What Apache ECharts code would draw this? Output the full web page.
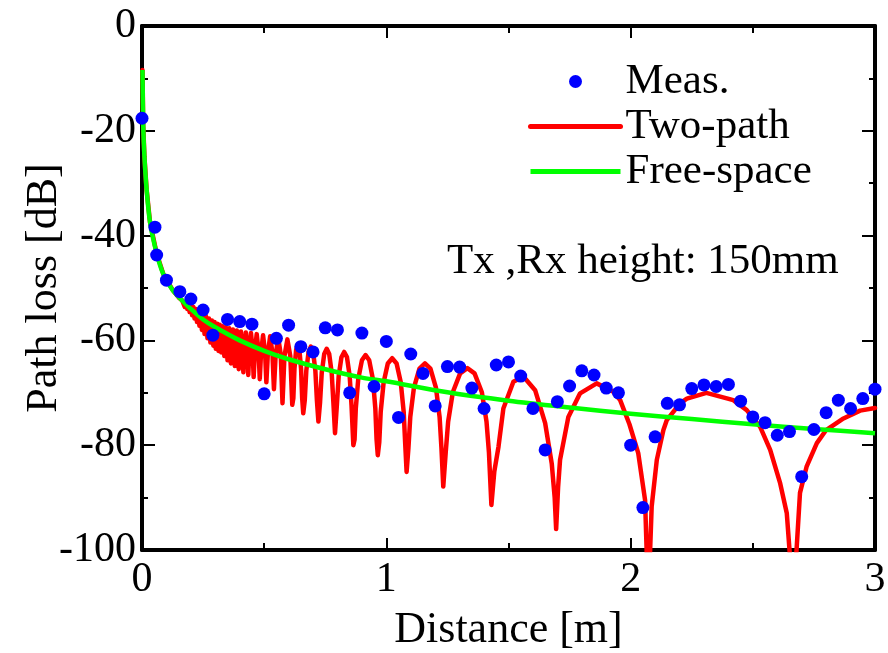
<!DOCTYPE html>
<html>
<head>
<meta charset="utf-8">
<script src="https://cdn.jsdelivr.net/npm/echarts@6/dist/echarts.min.js"></script>
<style>
html,body{margin:0;padding:0;background:#fff;}
#chart{width:888px;height:653px;}
</style>
</head>
<body>
<div id="chart"></div>
<script>
// ---- data ----
var xTicks = [0, 1, 2, 3];
var yTicks = [0, -20, -40, -60, -80, -100];

var measX = [0.00,0.053,0.06,0.10,0.155,0.20,0.25,0.29,0.35,0.40,0.45,0.50,0.55,0.60,0.65,0.70,0.75,0.80,0.85,0.90,0.95,1.00,1.05,1.10,1.15,1.20,1.25,1.30,1.35,1.40,1.45,1.50,1.55,1.60,1.65,1.70,1.75,1.80,1.85,1.90,1.95,2.00,2.05,2.10,2.15,2.20,2.25,2.30,2.35,2.40,2.45,2.50,2.55,2.60,2.65,2.70,2.75,2.80,2.85,2.90,2.95,3.00];
var measY = [-17.6,-38.4,-43.7,-48.5,-50.7,-52.1,-54.2,-59.0,-56.0,-56.4,-56.9,-70.2,-59.6,-57.1,-61.2,-62.2,-57.6,-58.0,-70.0,-58.6,-68.8,-60.2,-74.7,-62.6,-66.3,-72.5,-65.0,-65.1,-69.1,-73.0,-64.7,-64.1,-66.8,-73.0,-80.9,-71.7,-68.7,-65.8,-66.6,-69.1,-70.0,-80.0,-91.9,-78.4,-72.0,-72.3,-69.2,-68.5,-68.8,-68.4,-71.6,-74.6,-75.7,-78.1,-77.4,-86.0,-77.0,-73.8,-71.4,-73.0,-71.1,-69.3];

var twoPath = [
[0.002,-8.4],[0.005,-19],[0.01,-25],[0.019,-31.3],[0.033,-37.5],[0.06,-43.4],[0.087,-47.3],[0.127,-50.5],[0.150,-51.8],[0.165,-52.4],
[0.170,-52.3],[0.175,-53.6],[0.180,-52.6],[0.185,-54.0],[0.190,-52.9],[0.195,-54.6],[0.200,-53.3],[0.205,-55.2],[0.210,-53.6],[0.215,-55.8],
[0.220,-54.0],[0.225,-56.5],[0.230,-54.3],[0.235,-57.2],[0.240,-54.7],[0.245,-58.0],[0.250,-55.0],[0.256,-58.8],[0.262,-55.4],[0.268,-59.6],
[0.274,-55.8],[0.280,-60.4],[0.286,-56.2],[0.292,-61.0],[0.297,-56.5],[0.302,-61.6],[0.308,-56.8],[0.313,-62.0],[0.318,-57.0],[0.324,-62.3],
[0.330,-57.3],[0.337,-63.0],[0.343,-57.5],[0.350,-63.8],[0.357,-57.7],[0.364,-64.4],[0.372,-57.9],[0.380,-64.9],[0.388,-58.1],[0.396,-65.5],
[0.405,-58.3],[0.415,-66.1],
[0.419,-61.5],[0.425,-58.5],[0.431,-61.5],[0.435,-66.6],
[0.4394,-61.8],[0.446,-58.6],[0.4526,-61.8],[0.457,-67.0],
[0.462,-62.0],[0.4695,-58.8],[0.477,-62.0],[0.482,-67.4],
[0.4874,-62.2],[0.4955,-59.0],[0.5036,-62.2],[0.509,-68.0],
[0.5152,-62.4],[0.5245,-59.2],[0.5338,-62.4],[0.540,-69.3],
[0.547,-62.7],[0.5575,-59.5],[0.568,-62.7],[0.575,-72.0],
[0.583,-63.0],[0.595,-59.8],[0.607,-63.0],[0.615,-72.3],
[0.6195,-71.0],[0.624,-65.4],[0.6308,-61.8],[0.6375,-60.8],[0.6442,-61.8],[0.651,-65.4],[0.6555,-71.0],[0.660,-73.9],
[0.6662,-71.4],[0.6724,-65.8],[0.6817,-62.2],[0.691,-61.2],[0.7003,-62.2],[0.7096,-65.8],[0.7158,-71.4],[0.722,-75.5],
[0.7288,-71.8],[0.7356,-66.2],[0.7458,-62.6],[0.756,-61.6],[0.7662,-62.6],[0.7764,-66.2],[0.7832,-71.8],[0.790,-77.7],
[0.7975,-72.4],[0.805,-66.8],[0.8163,-63.2],[0.8275,-62.2],[0.8388,-63.2],[0.850,-66.8],[0.8575,-72.4],[0.865,-80.0],
[0.870,-78.9],[0.875,-73.0],[0.885,-67.4],[0.900,-63.8],[0.915,-62.8],[0.930,-63.8],[0.945,-67.4],[0.955,-73.0],[0.960,-78.9],[0.965,-81.9],
[0.971,-79.5],[0.977,-73.6],[0.989,-68.0],[1.006,-64.4],[1.024,-63.4],[1.042,-64.4],[1.059,-68.0],[1.071,-73.6],[1.077,-79.5],[1.083,-85.1],
[1.0905,-80.5],[1.098,-74.6],[1.113,-69.0],[1.1355,-65.4],[1.158,-64.4],[1.1805,-65.4],[1.203,-69.0],[1.218,-74.6],[1.2255,-80.5],[1.233,-87.9],
[1.243,-81.4],[1.253,-75.5],[1.272,-69.9],[1.302,-66.3],[1.3315,-65.3],[1.361,-66.3],[1.391,-69.9],[1.410,-75.5],[1.420,-81.4],[1.430,-91.4],
[1.442,-85.0],[1.459,-80.3],[1.479,-73.0],[1.520,-67.9],[1.561,-66.9],[1.609,-69.5],[1.650,-75.8],[1.677,-83.5],[1.689,-90.0],[1.695,-96.0],
[1.703,-88.0],[1.711,-82.8],[1.745,-74.6],[1.793,-70.1],[1.861,-68.2],[1.929,-69.8],[1.957,-71.4],[1.995,-76.0],[2.031,-81.5],[2.059,-90.5],[2.072,-110],
[2.086,-91.7],[2.107,-82.8],[2.134,-77.1],[2.148,-75.2],[2.202,-72.0],[2.230,-71.1],[2.310,-70.0],[2.420,-71.4],[2.475,-73.3],[2.530,-76.5],[2.571,-80.9],[2.612,-87.3],[2.639,-93.0],[2.666,-110],
[2.693,-89.1],[2.720,-84.1],[2.762,-79.6],[2.800,-77.1],[2.871,-74.9],[2.939,-73.4],[3.000,-72.9]
];

var freeSpaceX = [0.002,0.005,0.01,0.019,0.033,0.06,0.087,0.127,0.2,0.25,0.3,0.4,0.5,0.6,0.75,0.9,1.0,1.25,1.5,1.75,2.0,2.25,2.5,2.75,3.0];
var freeSpaceY = [-8.4,-19,-25,-31.3,-37.5,-43.4,-47.3,-50.5,-54,-56,-57.5,-60,-62,-63.6,-65.5,-67.1,-67.8,-69.9,-71.5,-72.8,-74.0,-75.0,-76.0,-76.9,-77.7];

var annotation = 'Tx ,Rx height: 150mm';

// ---- build ----
var FONT = 'Liberation Serif';
var meas = measX.map(function(x,i){return [x, measY[i]];});
var free = freeSpaceX.map(function(x,i){return [x, freeSpaceY[i]];});

var chart = echarts.init(document.getElementById('chart'), null, {renderer:'canvas'});

function baseX(show, pos){
  return {
    type:'value', min:xTicks[0], max:xTicks[xTicks.length-1], interval:1, position:pos,
    axisLine:{show:true, onZero:false, lineStyle:{color:'#000', width:4}},
    axisTick:{show:true, inside:true, length:12, lineStyle:{color:'#000', width:2}},
    minorTick:{show:true, splitNumber:2, length:7, lineStyle:{color:'#000', width:2}},
    splitLine:{show:false},
    axisLabel:{show:show, color:'#000', fontFamily:FONT, fontSize:42, margin:9}
  };
}
function baseY(show, pos){
  return {
    type:'value', min:yTicks[yTicks.length-1], max:yTicks[0], interval:20, position:pos,
    axisLine:{show:true, onZero:false, lineStyle:{color:'#000', width:4}},
    axisTick:{show:true, inside:true, length:13, lineStyle:{color:'#000', width:2}},
    minorTick:{show:true, splitNumber:2, length:6, lineStyle:{color:'#000', width:2}},
    splitLine:{show:false},
    axisLabel:{show:show, color:'#000', fontFamily:FONT, fontSize:42, margin:6}
  };
}

var xa = baseX(true, 'bottom');
xa.name = 'Distance [m]'; xa.nameLocation = 'middle'; xa.nameGap = 58; xa.nameMoveOverlap = false;
xa.nameTextStyle = {color:'#000', fontFamily:FONT, fontSize:44};
var ya = baseY(true, 'left');
ya.name = 'Path loss [dB]'; ya.nameLocation = 'middle'; ya.nameGap = 76; ya.nameRotate = 90; ya.nameMoveOverlap = false;
ya.nameTextStyle = {color:'#000', fontFamily:FONT, fontSize:44};

chart.setOption({
  animation:false,
  backgroundColor:'#fff',
  textStyle:{fontFamily:FONT},
  grid:{left:142, right:13, top:26, bottom:103, containLabel:false, outerBoundsMode:'none'},
  xAxis:[xa, baseX(false,'top')],
  yAxis:[ya, baseY(false,'right')],
  legend:{
    orient:'vertical', left:523, top:55, itemWidth:90, itemHeight:13, itemGap:2,
    textStyle:{color:'#000', fontFamily:FONT, fontSize:43},
    data:[{name:'Meas.', icon:'circle', itemStyle:{opacity:1}},
          {name:'Two-path', itemStyle:{opacity:0}, lineStyle:{width:5}},
          {name:'Free-space', itemStyle:{opacity:0}, lineStyle:{width:5}}]
  },
  graphic:[{type:'text', left:447, top:240,
            style:{text:annotation, fill:'#000', fontFamily:FONT, fontSize:43}}],
  series:[
    {name:'Two-path', type:'line', data:twoPath, symbol:'none', z:2,
     lineStyle:{color:'#ff0000', width:4.5, join:'round', cap:'round'}, itemStyle:{color:'#ff0000'}},
    {name:'Free-space', type:'line', data:free, symbol:'none', smooth:0.3, z:3,
     lineStyle:{color:'#00ff00', width:4.5, join:'round'}, itemStyle:{color:'#00ff00'}},
    {name:'Meas.', type:'scatter', data:meas, symbol:'circle', symbolSize:13, z:4,
     itemStyle:{color:'#0000ff', opacity:1}}
  ]
});
</script>
</body>
</html>
